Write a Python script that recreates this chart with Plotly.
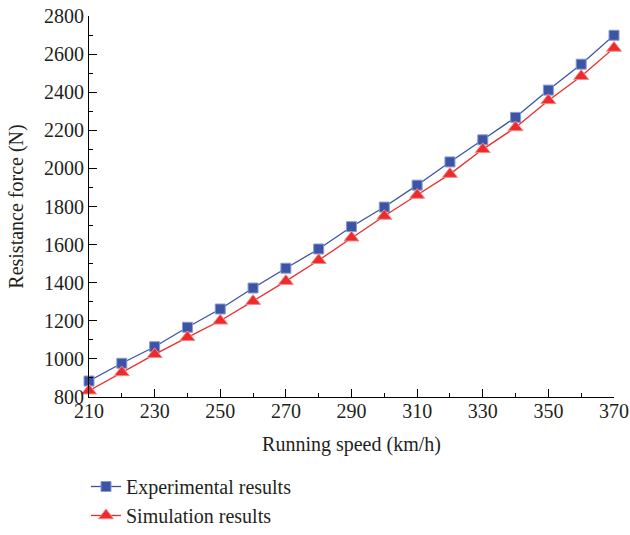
import plotly.graph_objects as go

speed = [210, 220, 230, 240, 250, 260, 270, 280, 290, 300, 310, 320, 330, 340, 350, 360, 370]
experimental = [884, 977, 1064, 1166, 1262, 1372, 1476, 1577, 1694, 1797, 1912, 2034, 2150, 2268, 2411, 2547, 2699]
simulation = [833, 929, 1024, 1113, 1200, 1303, 1408, 1518, 1636, 1750, 1860, 1970, 2100, 2215, 2357, 2484, 2632]

x_ticks = [210, 230, 250, 270, 290, 310, 330, 350, 370]
y_ticks = [800, 1000, 1200, 1400, 1600, 1800, 2000, 2200, 2400, 2600, 2800]

font_family = "Liberation Serif"
text_color = "#231f20"
fs = 20
W, H = 630, 535

fig = go.Figure()
fig.add_trace(go.Scatter(
    x=speed, y=experimental, name="Experimental results",
    mode="lines+markers", cliponaxis=False,
    line=dict(color="#3b54a5", width=1.3),
    marker=dict(symbol="square", size=10, color="#3b54a5",
                line=dict(color="#8a9bd0", width=1)),
))
fig.add_trace(go.Scatter(
    x=speed, y=simulation, name="Simulation results",
    mode="lines+markers", cliponaxis=False,
    line=dict(color="#ee2b2b", width=1.3),
    marker=dict(symbol="triangle-up", size=13, color="#ee2b2b",
                line=dict(color="#f08a8a", width=1)),
))

axis_common = dict(
    showgrid=False, zeroline=False, showline=True, linecolor="black", linewidth=1.2,
    ticks="inside", ticklen=8, tickwidth=1.2, tickcolor="black",
    tickfont=dict(family=font_family, size=fs, color=text_color),
    mirror=False, automargin=False, ticklabeloverflow="allow",
)

# plot area placed with axis domains (zero margins) so the legend does not push margins
fig.update_layout(
    width=W, height=H,
    margin=dict(l=0, r=0, t=0, b=0, pad=0),
    paper_bgcolor="white", plot_bgcolor="white",
    font=dict(family=font_family, size=fs, color=text_color),
    showlegend=True,
    legend=dict(
        x=86 / W, y=1 - 467 / H, xanchor="left", yanchor="top",
        orientation="v", itemwidth=30, tracegroupgap=0,
        font=dict(family=font_family, size=fs, color=text_color),
        bgcolor="rgba(0,0,0,0)",
    ),
    xaxis=dict(
        axis_common, domain=[89 / W, 614 / W],
        range=[210, 370], tickvals=x_ticks, ticklabelstandoff=-4,
        minor=dict(ticks="inside", ticklen=4, tickwidth=1.2, tickcolor="black", dtick=10, tick0=210, showgrid=False),
        title=dict(text="Running speed (km/h)", standoff=15,
                   font=dict(family=font_family, size=fs, color=text_color)),
    ),
    yaxis=dict(
        axis_common, domain=[1 - 397 / H, 1 - 16 / H],
        range=[800, 2800], tickvals=y_ticks,
        minor=dict(ticks="inside", ticklen=4, tickwidth=1.2, tickcolor="black", dtick=100, tick0=800, showgrid=False),
        title=dict(text="Resistance force (N)", standoff=14,
                   font=dict(family=font_family, size=fs, color=text_color)),
    ),
)

# remove the page's default 8px body margin so the 630x535 figure fills the window
fig.write_html("out.html", config={"displayModeBar": False},
               post_script="document.body.style.margin='0';")
